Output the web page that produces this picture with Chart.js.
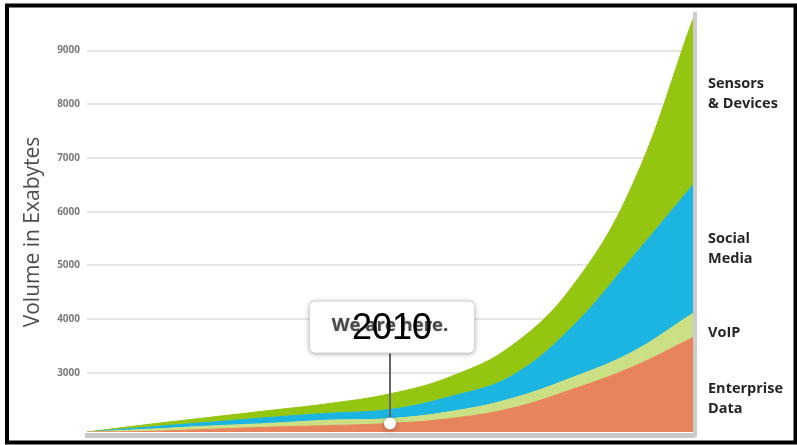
<!DOCTYPE html>
<html>
<head>
<meta charset="utf-8">
<script src="https://cdn.jsdelivr.net/npm/chart.js@4.4.1/dist/chart.umd.min.js"></script>
<style>
  html, body { margin: 0; padding: 0; background: #fff; }
  canvas { display: block; }
</style>
</head>
<body>
<canvas id="volumeChart" width="797" height="445"></canvas>
<script>
// years on the x axis
const years = ['2005', '2006', '2007', '2008', '2009', '2010', '2011', '2012', '2013', '2014', '2015'];

// top edge of each band, read on the exabyte axis (bands are filled down to the band below)
const enterprise = [1900, 1910, 1950, 1990, 2020, 2060, 2150, 2340, 2690, 3110, 3660];
const voip       = [1900, 1950, 2010, 2060, 2120, 2150, 2280, 2520, 2910, 3390, 4110];
const social     = [1900, 1990, 2080, 2170, 2250, 2320, 2560, 2940, 3850, 5150, 6500];
const sensors    = [1900, 2040, 2170, 2300, 2430, 2610, 2930, 3500, 4600, 6500, 9590];

const yTicks = [3000, 4000, 5000, 6000, 7000, 8000, 9000];
const seriesNames = ['Enterprise\nData', 'VoIP', 'Social\nMedia', 'Sensors\n& Devices'];
const bandColors = ['#e8845b', '#cbe085', '#1cb5e2', '#94c511'];

const hereYear = '2010';
const hereText = 'We are here.';

function band(name, data, color, fill) {
    return {
        label: name,
        data: data,
        backgroundColor: color,
        borderColor: color,
        borderWidth: 1,
        pointRadius: 0,
        fill: fill,
        tension: 0.4
    };
}

function roundRect(ctx, x, y, w, h, r) {
    ctx.beginPath();
    ctx.moveTo(x + r, y);
    ctx.lineTo(x + w - r, y);
    ctx.quadraticCurveTo(x + w, y, x + w, y + r);
    ctx.lineTo(x + w, y + h - r);
    ctx.quadraticCurveTo(x + w, y + h, x + w - r, y + h);
    ctx.lineTo(x + r, y + h);
    ctx.quadraticCurveTo(x, y + h, x, y + h - r);
    ctx.lineTo(x, y + r);
    ctx.quadraticCurveTo(x, y, x + r, y);
    ctx.closePath();
}

const decorations = {
    id: 'decorations',
    beforeDraw(chart) {
        const ctx = chart.ctx;
        ctx.save();
        ctx.fillStyle = '#fff';
        ctx.fillRect(0, 0, chart.width, chart.height);
        ctx.restore();
    },
    afterDatasetsDraw(chart) {
        const ctx = chart.ctx;
        const area = chart.chartArea;
        ctx.save();
        // grey floor under the bands and grey edge on the right
        ctx.fillStyle = '#c8c8c8';
        ctx.fillRect(area.left - 2, area.bottom + 1, area.right - area.left + 4, 5);
        ctx.fillStyle = '#cbcbcb';
        ctx.fillRect(area.right, 12, 4, area.bottom + 5 - 12);
        ctx.restore();
    },
    afterDraw(chart) {
        const ctx = chart.ctx;
        const area = chart.chartArea;
        const xs = chart.scales.x;
        const ys = chart.scales.y;
        ctx.save();

        // axis title
        ctx.save();
        ctx.translate(33, 232);
        ctx.rotate(-Math.PI / 2);
        ctx.font = '21px "Open Sans"';
        ctx.fillStyle = '#4d4d4d';
        ctx.textAlign = 'center';
        ctx.textBaseline = 'middle';
        ctx.fillText('Volume in Exabytes', 0, 0);
        ctx.restore();

        // series names on the right
        const labelBaselines = [[393, 413], [337], [243, 263], [88, 108]];
        ctx.font = 'bold 14.5px "Open Sans"';
        ctx.fillStyle = '#262626';
        ctx.textAlign = 'left';
        ctx.textBaseline = 'alphabetic';
        seriesNames.forEach((name, i) => {
            name.split('\n').forEach((line, j) => {
                ctx.fillText(line, area.right + 15, labelBaselines[i][j]);
            });
        });

        // "we are here" callout pinned to 2010
        const idx = years.indexOf(hereYear);
        const px = xs.getPixelForValue(idx);
        const py = ys.getPixelForValue(enterprise[idx]);
        const boxW = 165, boxH = 52, boxTop = 301;
        const boxLeft = px - boxW / 2 + 2;

        ctx.strokeStyle = '#666';
        ctx.lineWidth = 2;
        ctx.beginPath();
        ctx.moveTo(px, boxTop + boxH);
        ctx.lineTo(px, py);
        ctx.stroke();

        ctx.save();
        ctx.shadowColor = 'rgba(0,0,0,0.35)';
        ctx.shadowBlur = 5;
        ctx.shadowOffsetY = 1;
        ctx.beginPath();
        ctx.arc(px, py, 6, 0, Math.PI * 2);
        ctx.fillStyle = '#fff';
        ctx.fill();
        roundRect(ctx, boxLeft, boxTop, boxW, boxH, 6);
        ctx.fillStyle = '#fff';
        ctx.fill();
        ctx.restore();
        roundRect(ctx, boxLeft, boxTop, boxW, boxH, 6);
        ctx.strokeStyle = '#d4d4d4';
        ctx.lineWidth = 1;
        ctx.stroke();

        ctx.save();
        ctx.shadowColor = 'rgba(0,0,0,0.3)';
        ctx.shadowBlur = 2;
        ctx.font = 'bold 18.5px "Open Sans"';
        ctx.fillStyle = '#4a4a4a';
        ctx.textAlign = 'center';
        ctx.textBaseline = 'middle';
        ctx.fillText(hereText, px, 326);
        ctx.restore();

        ctx.font = '36px "Liberation Sans"';
        ctx.fillStyle = '#000';
        ctx.textAlign = 'center';
        ctx.textBaseline = 'middle';
        ctx.fillText(hereYear, px + 2, 329);

        // outer black frame
        ctx.strokeStyle = '#000';
        ctx.lineWidth = 4;
        ctx.strokeRect(7, 5.5, 788.5, 437);
        ctx.restore();
    }
};

new Chart(document.getElementById('volumeChart').getContext('2d'), {
    type: 'line',
    data: {
        labels: years,
        datasets: [
            band(seriesNames[0], enterprise, bandColors[0], 'start'),
            band(seriesNames[1], voip, bandColors[1], '-1'),
            band(seriesNames[2], social, bandColors[2], '-1'),
            band(seriesNames[3], sensors, bandColors[3], '-1')
        ]
    },
    options: {
        responsive: false,
        animation: false,
        layout: { padding: { left: 7, right: 104, top: 9.5, bottom: 12 } },
        plugins: {
            legend: { display: false },
            tooltip: { enabled: false }
        },
        scales: {
            x: { display: false },
            y: {
                min: 1900,
                max: 9700,
                afterFit(scale) { scale.width = 80; },
                afterBuildTicks(scale) { scale.ticks = yTicks.map(v => ({ value: v })); },
                border: { display: false },
                grid: { color: '#e6e6e6', lineWidth: 2, drawTicks: false },
                ticks: {
                    padding: 7,
                    color: '#7a7a7a',
                    font: { family: '"Open Sans"', size: 10, weight: 'bold' },
                    callback: v => String(v)
                }
            }
        }
    },
    plugins: [decorations]
});
</script>
</body>
</html>
